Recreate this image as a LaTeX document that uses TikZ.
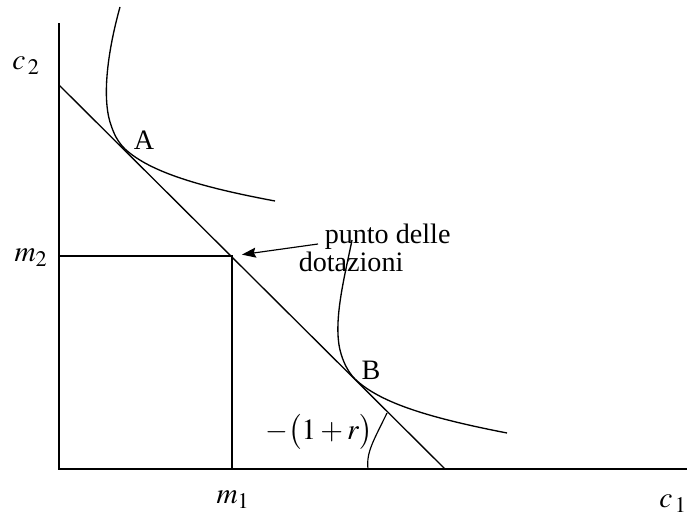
\documentclass[tikz,border=0pt]{standalone}
\usepackage{amsmath}
\usepackage{mathptmx}
\usepackage{fontspec}
\setmainfont{Liberation Serif}
\usetikzlibrary{arrows.meta}
\DeclareMathSizes{25}{25}{19}{14}

\tikzset{
  lbl/.style={font=\fontsize{24}{28}\selectfont, inner sep=0pt},
  mlbl/.style={font=\fontsize{25}{30}\selectfont, inner sep=0pt},
  curve/.style={line width=0.4mm}
}

\begin{document}
\begin{tikzpicture}[x=0.3mm, y=-0.3mm, line width=0.45mm]
        \useasboundingbox (0,0) rectangle (687,517);

        % Axes
        \coordinate (O) at (59,469);
        \coordinate (ytop) at (59,23);
        \coordinate (xend) at (687,469);
        \draw (ytop) -- (O) -- (xend);

        % Budget line and endowment point
        \coordinate (yint) at (59,85);
        \coordinate (xint) at (445,469);
        \coordinate (E) at (232,256);
        \coordinate (Em2) at (59,256);
        \coordinate (Em1) at (232,469);
        \draw[curve] (yint) -- (xint);
        \draw[curve] (Em2) -- (E) -- (Em1);

        % Indifference curves, tangent at A and B
        \coordinate (A) at (125,149);
        \coordinate (B) at (355,379);
        \draw[curve] (120,7) .. controls (108,50) and (102,95) .. (110,122)
              .. controls (114,135) and (118,142) .. (A)
              .. controls (150,172) and (200,187) .. (275,201);
        \draw[curve] (352,240) .. controls (345,275) and (333,320) .. (340,350)
              .. controls (343,362) and (348,372) .. (B)
              .. controls (380,403) and (430,418) .. (507,433);

        % Slope marker
        \coordinate (arc_start) at (368,469);
        \coordinate (arc_end) at (387,413);
        \draw[line width=0.35mm] (arc_start) .. controls (366,452) and (374,440) .. (arc_end);

        % Labels
        \node[mlbl] (c2) at (26,66) {$c_{\,2}$};
        \node[mlbl] (m2) at (31,258) {$m_{2}$};
        \node[mlbl] (m1) at (233,500) {$m_{1}$};
        \node[mlbl] (c1) at (673,504) {$c_{\,1}$};
        \node[lbl] (lA) at (144,140) {A};
        \node[lbl] (lB) at (371,370) {B};
        \node[mlbl] (slope) at (319,432) {$-\bigl(1+r\bigr)$};

        % Endowment note
        \node[lbl, anchor=base west] (note1) at (324,243) {punto delle};
        \node[lbl, anchor=base west] (note2) at (298,271) {dotazioni};
        \coordinate (arrowtail) at (318,244);
        \draw[line width=0.35mm, -{Stealth[length=4.2mm, width=3mm, inset=0.6mm]}, shorten >=3mm] (arrowtail) -- (E);
      \end{tikzpicture}
\end{document}
